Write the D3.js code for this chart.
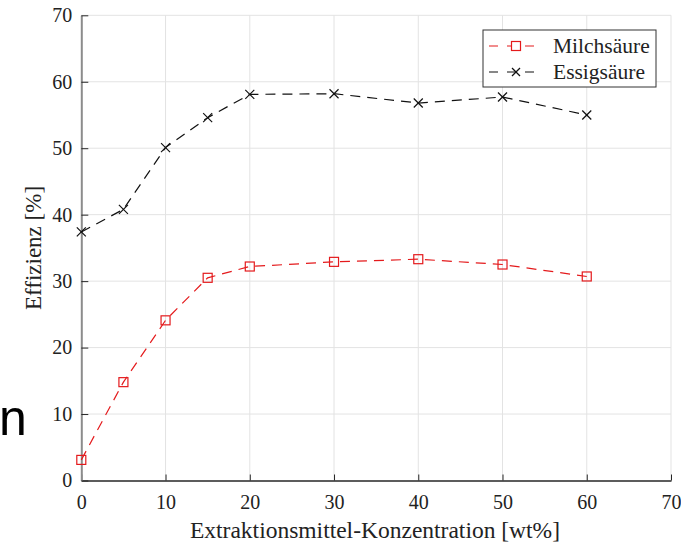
<!DOCTYPE html>
<html lang="de">
<head>
<meta charset="UTF-8">
<title>Effizienz</title>
<script src="https://d3js.org/d3.v7.min.js"></script>
<style>
    body { margin: 0; background: white; }
    svg { display: block; }
    text { font-family: "Liberation Serif", "Times New Roman", serif; fill: #222; }
</style>
</head>
<body>
<svg id="chart" width="681" height="542"></svg>
<script>
    const konz = [0, 5, 10, 15, 20, 30, 40, 50, 60];
    const milch = [3.1, 14.8, 24.1, 30.5, 32.2, 32.9, 33.3, 32.5, 30.7];
    const essig = [37.4, 40.8, 50.1, 54.6, 58.1, 58.2, 56.8, 57.7, 55.0];
    const xTicks = [0, 10, 20, 30, 40, 50, 60, 70];
    const yTicks = [0, 10, 20, 30, 40, 50, 60, 70];

    const svg = d3.select('#chart');
    const x = d3.scaleLinear().domain([0, 70]).range([81.3, 671]);
    const y = d3.scaleLinear().domain([0, 70]).range([480.5, 15.3]);

    // grid
    svg.append('g').selectAll('line').data(xTicks.slice(1)).enter().append('line')
        .attr('x1', d => x(d)).attr('x2', d => x(d))
        .attr('y1', y(0)).attr('y2', y(70))
        .attr('stroke', '#e3e3e3').attr('stroke-width', 1);
    svg.append('g').selectAll('line').data(yTicks.slice(1)).enter().append('line')
        .attr('x1', x(0)).attr('x2', x(70))
        .attr('y1', d => y(d)).attr('y2', d => y(d))
        .attr('stroke', '#e3e3e3').attr('stroke-width', 1);

    // axes
    const xAxis = svg.append('g').attr('transform', `translate(0,${y(0)})`)
        .call(d3.axisBottom(x).tickValues(xTicks).tickSizeInner(-6).tickSizeOuter(0).tickPadding(14));
    xAxis.attr('font-family', null).attr('font-size', null);
    xAxis.select('.domain').attr('stroke', '#262626').attr('stroke-width', 1.5);
    xAxis.selectAll('.tick line').attr('stroke', '#262626');
    xAxis.selectAll('text').style('font-size', '20px');

    const yAxis = svg.append('g').attr('transform', `translate(${x(0)},0)`)
        .call(d3.axisLeft(y).tickValues(yTicks).tickSizeInner(-7).tickSizeOuter(0).tickPadding(9));
    yAxis.attr('font-family', null).attr('font-size', null);
    yAxis.select('.domain').attr('stroke', '#8c8c8c').attr('stroke-width', 2);
    yAxis.selectAll('.tick line').attr('stroke', '#262626');
    yAxis.selectAll('text').style('font-size', '20px');

    svg.append('text').attr('x', 375).attr('y', 538).attr('text-anchor', 'middle')
        .style('font-size', '23.5px').text('Extraktionsmittel-Konzentration [wt%]');
    svg.append('text').attr('transform', 'translate(41,248) rotate(-90)').attr('text-anchor', 'middle')
        .style('font-size', '23px').text('Effizienz [%]');

    // stray glyph at left
    svg.append('text').attr('x', -1).attr('y', 435)
        .style('font-family', '"Liberation Sans", Arial, sans-serif').style('font-size', '50px')
        .style('fill', '#000').text('n');

    const red = '#e41a1c';
    const line = d3.line().x((d, i) => x(konz[i])).y(d => y(d));

    svg.append('path').datum(milch).attr('d', line).attr('fill', 'none')
        .attr('stroke', red).attr('stroke-width', 1.2).attr('stroke-dasharray', '10,7');
    svg.append('path').datum(essig).attr('d', line).attr('fill', 'none')
        .attr('stroke', '#111').attr('stroke-width', 1.2).attr('stroke-dasharray', '10,7');

    svg.append('g').selectAll('rect').data(milch).enter().append('rect')
        .attr('x', (d, i) => x(konz[i]) - 4.5).attr('y', d => y(d) - 4.5)
        .attr('width', 9).attr('height', 9)
        .attr('fill', 'none').attr('stroke', red).attr('stroke-width', 1.2);

    const cross = (g, cx, cy, s, color) => {
        g.append('line').attr('x1', cx - s).attr('y1', cy - s).attr('x2', cx + s).attr('y2', cy + s)
            .attr('stroke', color).attr('stroke-width', 1.2);
        g.append('line').attr('x1', cx - s).attr('y1', cy + s).attr('x2', cx + s).attr('y2', cy - s)
            .attr('stroke', color).attr('stroke-width', 1.2);
    };
    const crosses = svg.append('g');
    essig.forEach((d, i) => cross(crosses, x(konz[i]), y(d), 4.5, '#111'));

    // legend
    const lg = svg.append('g');
    lg.append('rect').attr('x', 483).attr('y', 30).attr('width', 173).attr('height', 57)
        .attr('fill', 'white').attr('stroke', '#333').attr('stroke-width', 1);
    const items = [
        { name: 'Milchsäure', color: red, marker: 'square' },
        { name: 'Essigsäure', color: '#111', marker: 'cross' }
    ];
    items.forEach((it, i) => {
        const ly = 46 + i * 26;
        lg.append('line').attr('x1', 489).attr('x2', 543).attr('y1', ly).attr('y2', ly)
            .attr('stroke', it.color).attr('stroke-width', 1.2).attr('stroke-dasharray', '9,9');
        if (it.marker === 'square') {
            lg.append('rect').attr('x', 511.5).attr('y', ly - 4.5).attr('width', 9).attr('height', 9)
                .attr('fill', 'white').attr('stroke', it.color).attr('stroke-width', 1.2);
        } else {
            cross(lg, 516, ly, 4, it.color);
        }
        lg.append('text').attr('x', 553).attr('y', ly + 7).style('font-size', '21.5px').text(it.name);
    });
</script>
</body>
</html>
